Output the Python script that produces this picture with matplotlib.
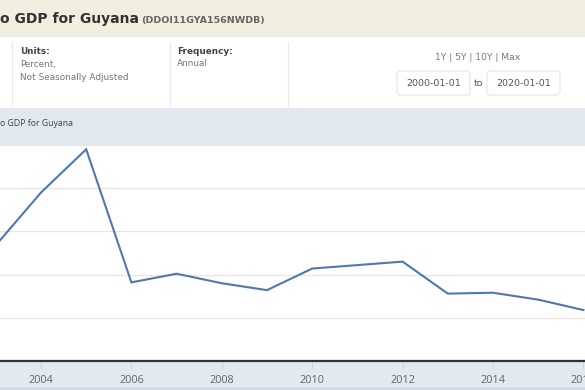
import matplotlib.pyplot as plt
from matplotlib.patches import Rectangle, FancyBboxPatch

# 系列データ (年, 値)
years = [2003, 2004, 2005, 2006, 2007, 2008, 2009, 2010, 2011, 2012, 2013, 2014, 2015, 2016]
values = [13.4, 19.5, 24.5, 9.1, 10.1, 9.0, 8.2, 10.7, 11.1, 11.5, 7.8, 7.9, 7.1, 5.9]
tick_years = [2004, 2006, 2008, 2010, 2012, 2014, 2016]
y_grid = [0, 5, 10, 15, 20, 25]

title = "o GDP for Guyana"
series_id = "(DDOI11GYA156NWDB)"

W, H = 585, 390
fig = plt.figure(figsize=(W / 100, H / 100), dpi=100)

# 背景レイアウト用 (ピクセル座標)
bg = fig.add_axes([0, 0, 1, 1])
bg.set_xlim(0, W)
bg.set_ylim(H, 0)
bg.axis("off")

def rect(x, y, w, h, fc, ec="none", lw=0, z=0):
    bg.add_patch(Rectangle((x, y), w, h, facecolor=fc, edgecolor=ec, linewidth=lw, zorder=z))

rect(0, 0, W, 37, "#f0efe0")
rect(0, 37, W, 71, "white")
rect(0, 108, W, 37, "#e1e8f0")
rect(0, 362, W, 26, "#e3e9f0")
rect(0, 387, W, 3, "#d3dbe6")

for x in [12, 170, 288]:
    bg.plot([x, x], [42, 106], color="#e6e9ee", lw=0.8)

bg.text(0, 19, title, fontsize=10, fontweight="bold", color="#333333", va="center", ha="left")
bg.text(141, 20, series_id, fontsize=6.8, fontweight="bold", color="#666666", va="center", ha="left")

bg.text(20, 51, "Units:", fontsize=6.4, fontweight="bold", color="#444444", va="center")
bg.text(20, 64, "Percent,", fontsize=6.4, color="#777777", va="center")
bg.text(20, 77, "Not Seasonally Adjusted", fontsize=6.4, color="#777777", va="center")
bg.text(177, 51, "Frequency:", fontsize=6.4, fontweight="bold", color="#444444", va="center")
bg.text(177, 64, "Annual", fontsize=6.4, color="#777777", va="center")

bg.text(478, 57, "1Y | 5Y | 10Y | Max", fontsize=6.6, color="#777777", va="center", ha="center")
for x0, lab in [(397, "2000-01-01"), (487, "2020-01-01")]:
    bg.add_patch(FancyBboxPatch((x0, 71), 73, 24, boxstyle="round,pad=0,rounding_size=3",
                                facecolor="white", edgecolor="#e2e5ea", linewidth=0.8))
    bg.text(x0 + 36.5, 83, lab, fontsize=6.8, color="#555555", va="center", ha="center")
bg.text(478, 83, "to", fontsize=6.8, color="#555555", va="center", ha="center")

bg.text(0, 123, title, fontsize=6.3, color="#444444", va="center", ha="left",
        family="Open Sans")

# チャート本体
px_per_year = 45.2
x0_year = 2004 - 41 / px_per_year
x1_year = x0_year + W / px_per_year
ax = fig.add_axes([0, (H - 361) / H, 1, 216 / H])
ax.set_xlim(x0_year, x1_year)
ax.set_ylim(y_grid[0], y_grid[-1])
ax.set_facecolor("white")
for s in ["top", "left", "right"]:
    ax.spines[s].set_visible(False)
ax.spines["bottom"].set_color("#333333")
ax.spines["bottom"].set_linewidth(1.6)
ax.set_yticks(y_grid)
ax.yaxis.grid(True, color="#e6e6e6", lw=0.9)
ax.tick_params(axis="y", left=False, labelleft=False)
ax.set_xticks(tick_years)
ax.set_xticklabels([str(t) for t in tick_years], fontsize=7.8, color="#666666", family="Open Sans")
ax.tick_params(axis="x", direction="out", length=6, color="#d0d8e2", pad=4)
ax.set_axisbelow(True)
ax.plot(years, values, color="#5078ab", lw=1.5, solid_joinstyle="miter")

fig.savefig("out.png", dpi=100)
